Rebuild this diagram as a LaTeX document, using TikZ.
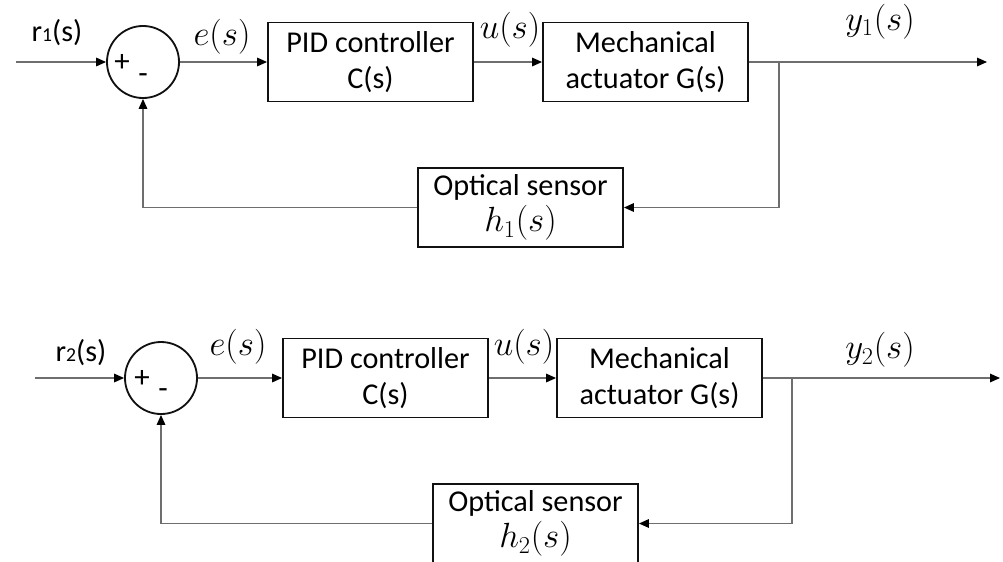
\documentclass[tikz,border=0pt]{standalone}
\usepackage[no-math]{fontspec}
\setmainfont{Carlito}
\usetikzlibrary{arrows.meta,positioning,calc}
\definecolor{wire}{HTML}{6E6E6E}
\definecolor{edge}{HTML}{111111}
\newcommand{\bigmath}[1]{{\fontsize{24.5}{26}\selectfont$#1$}}

\begin{document}
\begin{tikzpicture}[x=0.025cm, y=-0.025cm,
    box/.style={draw=edge, line width=1.3pt, minimum width=5.125cm, minimum height=1.975cm, align=center, font=\fontsize{21.5}{26}\selectfont, inner sep=0pt},
    sumnode/.style={draw=edge, line width=1.3pt, circle, minimum size=1.8cm, inner sep=0pt},
    arrow/.style={-{Triangle[length=7pt, width=6pt, color=black]}, line width=1pt, color=wire},
    lbl/.style={font=\fontsize{21.5}{25}\selectfont, inner sep=0pt},
    sign/.style={font=\fontsize{22}{22}\selectfont, inner sep=0pt},
]
\useasboundingbox (0,0) rectangle (1003,561);

\node[sumnode] (sum1) at (143,62) {};
\node[sign] (plus1) at (122,63) {+};
\node[sign] (minus1) at (143,79) {-};
\node[box] (pid1) at (370.5,62) {PID controller\\C(s)};
\node[box] (act1) at (645.5,62) {Mechanical\\actuator G(s)};
\node[box] (sens1) at (520.5,207.5) {Optical sensor\\\bigmath{h_1(s)}};
\coordinate (in1) at (16,62);
\coordinate (br1) at (779,62);
\coordinate (out1) at (987,62);

\node[lbl] (r1) at (57,33) {r{\fontsize{14}{14}\selectfont 1}(s)};
\node[lbl] (e1) at (222,37) {\bigmath{e(s)}};
\node[lbl] (u1) at (510,30) {\bigmath{u(s)}};
\node[lbl] (y1) at (880,22) {\bigmath{y_1(s)}};

\draw[arrow] (in1) -- (sum1);
\draw[arrow] (sum1) -- (pid1);
\draw[arrow] (pid1) -- (act1);
\draw[arrow] (act1) -- (out1);
\draw[arrow] (br1) |- (sens1);
\draw[arrow] (sens1) -| (sum1);

\node[sumnode] (sum2) at (161,378) {};
\node[sign] (plus2) at (142,379) {+};
\node[sign] (minus2) at (163,394) {-};
\node[box] (pid2) at (385.5,378) {PID controller\\C(s)};
\node[box] (act2) at (659.5,378) {Mechanical\\actuator G(s)};
\node[box] (sens2) at (535.5,523.5) {Optical sensor\\\bigmath{h_2(s)}};
\coordinate (in2) at (35,378);
\coordinate (br2) at (792,378);
\coordinate (out2) at (1000,378);

\node[lbl] (r2) at (81,353) {r{\fontsize{14}{14}\selectfont 2}(s)};
\node[lbl] (e2) at (238,347) {\bigmath{e(s)}};
\node[lbl] (u2) at (524,347) {\bigmath{u(s)}};
\node[lbl] (y2) at (880,350) {\bigmath{y_2(s)}};

\draw[arrow] (in2) -- (sum2);
\draw[arrow] (sum2) -- (pid2);
\draw[arrow] (pid2) -- (act2);
\draw[arrow] (act2) -- (out2);
\draw[arrow] (br2) |- (sens2);
\draw[arrow] (sens2) -| (sum2);
\end{tikzpicture}
\end{document}
